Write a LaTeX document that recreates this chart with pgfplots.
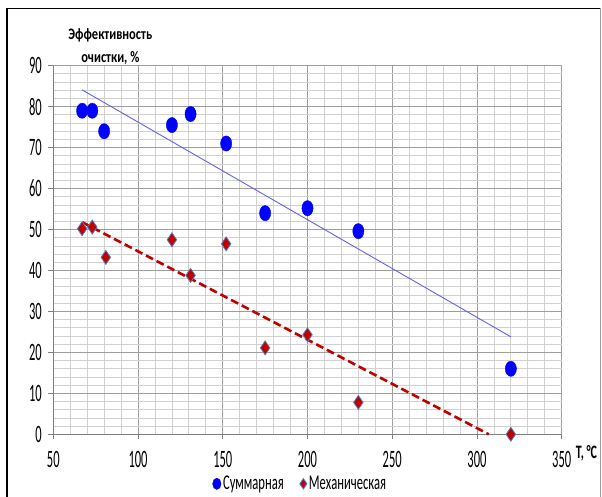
\documentclass[border=0pt]{standalone}
\usepackage{fontspec}
\setmainfont{Carlito}[FakeStretch=0.6]
\newfontfamily\tickfont{Carlito}[FakeStretch=0.5]
\newfontfamily\ylabfont{Carlito}[FakeStretch=0.78]
\newfontfamily\tlabfont{Carlito}[FakeStretch=0.63]
\usepackage{pgfplots}
\usepackage{pgfplotstable}
\pgfplotsset{compat=1.18}
\definecolor{ptblue}{HTML}{0000FF}
\definecolor{trblue}{HTML}{6464E6}
\definecolor{ptred}{HTML}{C00000}
\definecolor{edgeblue}{HTML}{4F81BD}
\pgfplotstableread{
x y
67 79
73 79
80 74
120 75.5
131 78.2
152 71
175 54
200 55.2
230 49.6
320 16
}\summ
\pgfplotstableread{
x y
67 50.2
73 50.6
81 43.2
120 47.5
131 38.8
152 46.5
175 21.1
200 24.3
230 7.8
320 0
}\mech
\begin{document}
\begin{tikzpicture}
\useasboundingbox (-53.3pt,-62.7pt) rectangle (548.7pt,434.3pt);
\begin{axis}[
  scale only axis, width=508.4pt, height=368.6pt,
  at={(0pt,0pt)}, anchor=south west,
  xmin=50, xmax=350, ymin=0, ymax=90,
  xtick={50,100,...,350}, ytick={0,10,...,90},
  minor x tick num=4, minor y tick num=4,
  grid=both,
  major grid style={color=black!38, line width=0.8pt},
  minor grid style={color=black!18, line width=0.8pt},
  axis lines=left, axis line style={-, color=black!50, line width=0.8pt},
  tick align=outside, major tick length=5pt, minor tick length=0pt,
  tick style={color=black!50, line width=0.8pt},
  /pgf/number format/assume math mode=true,
  xticklabel style={font=\tickfont\fontsize{25}{27}\selectfont, text=black, anchor=center, yshift=-20pt},
  yticklabel style={font=\tickfont\fontsize{25}{27}\selectfont, text=black, anchor=east, xshift=-3pt},
  clip=false,
  legend columns=2,
  legend style={at={(0.486,0)}, anchor=center, yshift=-49.5pt, draw=none, fill=none,
    font=\fontsize{21}{23}\selectfont,
    /tikz/every even column/.append style={column sep=14pt}},
  legend cell align=left,
]
\addplot[only marks, mark=*, mark size=5.6pt, mark options={ptblue, fill=ptblue, yscale=1.36},
  legend image post style={scale=0.75}] table {\summ};
\addlegendentry{Суммарная}
\addplot[only marks, mark=diamond*, mark size=7pt, mark options={draw=edgeblue, fill=ptred, line width=0.8pt, xscale=0.9},
  legend image post style={scale=0.75}] table {\mech};
\addlegendentry{Механическая}
\addplot[trblue, line width=0.9pt, forget plot] coordinates {(67,84.1) (320,23.8)};
\addplot[ptred, line width=2.6pt, dash pattern=on 8pt off 4pt, forget plot] coordinates {(67,51.8) (307,0)};
\end{axis}
\node[align=center, font=\ylabfont\bfseries\fontsize{16}{23}\selectfont] at (57pt,388pt) {Эффективность\\очистки, \%};
\node[font=\tlabfont\bfseries\fontsize{19}{20}\selectfont] at (533.2pt,-18.7pt) {T, °C};
\draw[black, line width=1.5pt] (-46.3pt,-80pt) -- (-46.3pt,426pt) -- (547.4pt,426pt);
\draw[black!40, line width=0.8pt] (547.4pt,426pt) -- (547.4pt,-80pt);
\end{tikzpicture}
\end{document}
